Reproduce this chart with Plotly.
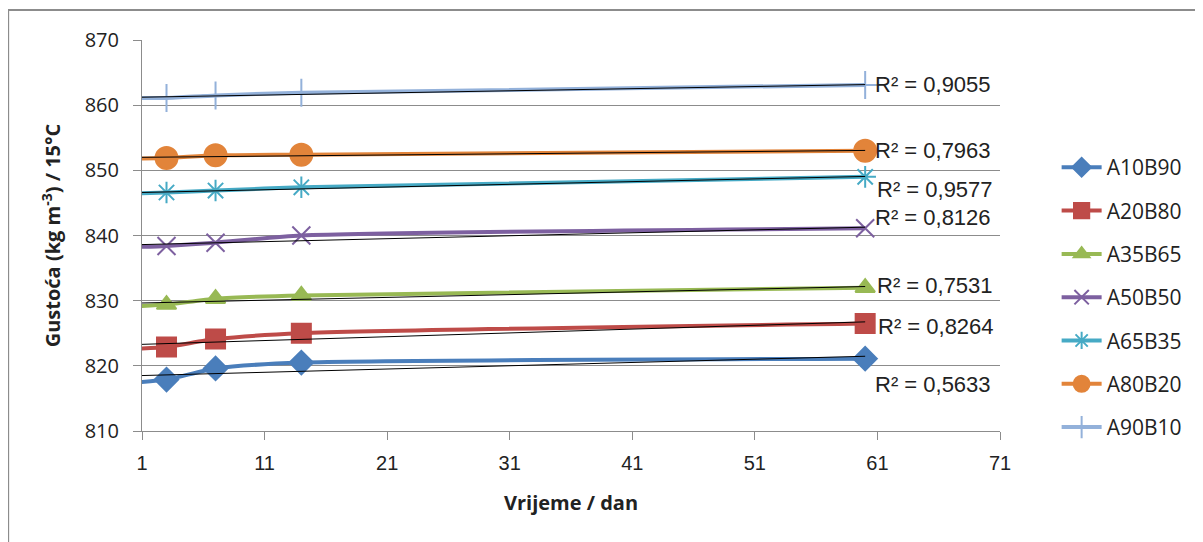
import numpy as np
import plotly.graph_objects as go

# ---- data ----
days = [0, 3, 7, 14, 60]
series_names = ["A10B90", "A20B80", "A35B65", "A50B50", "A65B35", "A80B20", "A90B10"]
A10B90 = [817.4, 817.9, 819.6, 820.5, 821.1]
A20B80 = [822.6, 822.9, 824.1, 825.0, 826.5]
A35B65 = [829.1, 829.4, 830.3, 830.8, 832.0]
A50B50 = [838.2, 838.4, 838.9, 840.0, 841.1]
A65B35 = [846.4, 846.6, 846.9, 847.4, 849.0]
A80B20 = [851.8, 851.9, 852.3, 852.4, 853.0]
A90B10 = [861.1, 861.1, 861.5, 861.9, 863.1]
values = [A10B90, A20B80, A35B65, A50B50, A65B35, A80B20, A90B10]
r2_labels = ["R² = 0,5633", "R² = 0,8264", "R² = 0,7531", "R² = 0,8126",
             "R² = 0,9577", "R² = 0,7963", "R² = 0,9055"]
r2_pos_x = [60.6, 60.9, 60.8, 60.6, 60.8, 60.6, 60.6]
r2_pos_y = [817.1, 826.0, 832.4, 842.8, 847.0, 853.1, 863.2]
x_ticks = [1, 11, 21, 31, 41, 51, 61, 71]
y_ticks = [810, 820, 830, 840, 850, 860, 870]

colors = ["#4A7EBB", "#BE4B48", "#98B954", "#7D60A0", "#46AAC5", "#E2843A", "#93B1DA"]
symbols = ["diamond", "square", "triangle-up", "x-thin-open", "asterisk-open", "circle", "cross-thin-open"]
msizes = [18, 19, 17, 18, 18, 22, 20]

fig = go.Figure()
for i, (name, vals) in enumerate(zip(series_names, values)):
    sizes = [0] + [msizes[i]] * (len(days) - 1)
    fig.add_trace(go.Scatter(
        x=days, y=vals, name=name, mode="lines+markers",
        line=dict(color=colors[i], width=4, shape="spline", smoothing=0.6),
        marker=dict(symbol=symbols[i], size=sizes, color=colors[i], opacity=1,
                    line=dict(color=colors[i], width=2)),
        legendgroup=name, cliponaxis=True,
    ))

# linear trendlines (black)
for i, vals in enumerate(values):
    k, b = np.polyfit(days, vals, 1)
    xs = [days[0], days[-1]]
    fig.add_trace(go.Scatter(
        x=xs, y=[k * x + b for x in xs], mode="lines",
        line=dict(color="black", width=1), showlegend=False, hoverinfo="skip",
    ))

for i in range(len(series_names)):
    fig.add_annotation(x=r2_pos_x[i], y=r2_pos_y[i], text=r2_labels[i],
                       xanchor="left", yanchor="middle", showarrow=False,
                       font=dict(size=22, color="#222",
                                 family="Liberation Sans Narrow, Liberation Sans, sans-serif"))

# chart border (partially visible in the reference)
fig.add_shape(type="rect", xref="paper", yref="paper",
              x0=-0.156, x1=1.3, y0=-0.4, y1=1.0767,
              line=dict(color="#8C8C8C", width=2), layer="below")

fig.update_layout(
    width=1203, height=542,
    margin=dict(l=134, r=211, t=32, b=119),
    paper_bgcolor="white", plot_bgcolor="white",
    font=dict(family="Open Sans, Liberation Sans, sans-serif", color="#222"),
    legend=dict(x=1.066, y=0.726, xanchor="left", yanchor="top",
                font=dict(size=21), tracegroupgap=13,
                itemwidth=40, bgcolor="rgba(0,0,0,0)"),
)
fig.update_xaxes(range=[1, 71], tickvals=x_ticks, ticks="outside", ticklen=8,
                 tickcolor="#8C8C8C", showline=True, linecolor="#8C8C8C",
                 linewidth=1, showgrid=False, zeroline=False, ticklabelstandoff=6,
                 tickfont=dict(size=20, family="Liberation Sans Narrow, Liberation Sans, sans-serif"),
                 title=dict(text="<b>Vrijeme / dan</b>", font=dict(size=20), standoff=22))
fig.update_yaxes(range=[810, 870], tickvals=y_ticks, ticks="outside", ticklen=8,
                 tickcolor="#8C8C8C", showline=True, linecolor="#8C8C8C",
                 linewidth=1, showgrid=True, gridcolor="#8C8C8C", gridwidth=1,
                 zeroline=False, tickfont=dict(size=20), ticklabelstandoff=10,
                 title=dict(text="<b>Gustoća (kg m<sup>-3</sup>) / 15°C</b>",
                            font=dict(size=20), standoff=18))

fig.write_html("out.html")
